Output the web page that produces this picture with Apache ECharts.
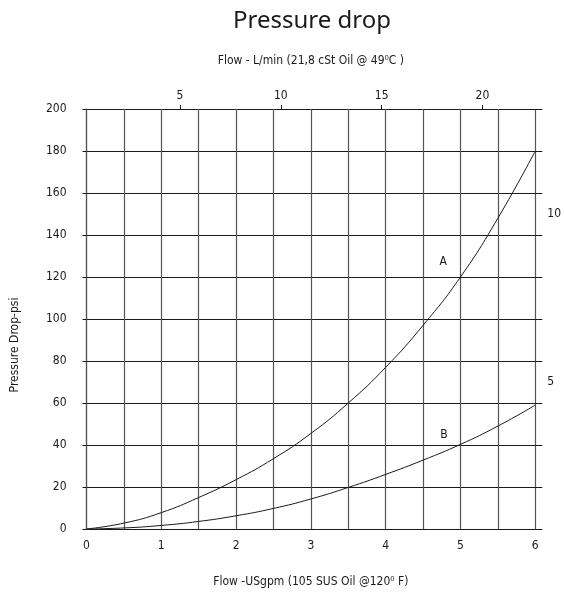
<!DOCTYPE html>
<html>
<head>
<meta charset="utf-8">
<script src="https://cdn.jsdelivr.net/npm/echarts@6/dist/echarts.min.js"></script>
<style>
  html, body { margin: 0; padding: 0; background: #fff; }
  #chart { width: 564px; height: 594px; }
</style>
</head>
<body>
<div id="chart"></div>
<script>
// flow in US gpm
const flowGpm = [0, 0.5, 1, 1.5, 2, 2.5, 3, 3.5, 4, 4.5, 5, 5.5, 6]
// pressure drop in psi
const curveA = [0, 2.8, 7.8, 15, 23.5, 33.5, 45.5, 60, 77, 97, 120, 148, 180]
const curveB = [0, 0.5, 1.7, 3.6, 6.3, 9.8, 14.3, 19.8, 26, 32.8, 40.3, 49, 59]
// top scale, L/min
const litreTicks = [5, 10, 15, 20]
// right side marks (psi value -> label)
const rightTicks = [0, 20, 40, 60, 80, 100, 120, 140, 160, 180, 200]
const rightLabelVals = [70, 150]
const rightLabelText = ['5', '10']

const font = "'DejaVu Sans Condensed', 'DejaVu Sans', sans-serif"
const ink = '#1a1a1a'

const chart = echarts.init(document.getElementById('chart'))

function pairs(ys) {
  return flowGpm.map((x, i) => [x, ys[i]])
}

function curveLabel(text, coord) {
  return {
    symbol: 'circle',
    symbolSize: 1,
    itemStyle: { color: 'rgba(0,0,0,0)' },
    label: { show: true, position: 'inside', formatter: text, fontFamily: font, fontSize: 12, color: ink },
    data: [{ coord: coord }],
  }
}

const option = {
  animation: false,
  textStyle: { fontFamily: font },
  title: {
    text: 'Pressure drop',
    left: 307,
    top: 4,
    textAlign: 'center',
    textStyle: { fontFamily: "'Noto Sans', sans-serif", fontSize: 24, fontWeight: 'normal', color: ink },
  },
  grid: { left: 86.5, right: 25.5, top: 109, bottom: 65 },
  xAxis: [
    {
      type: 'value',
      position: 'bottom',
      min: 0,
      max: 6,
      interval: 0.5,
      name: 'Flow -USgpm (105 SUS Oil @120\u2070 F)',
      nameLocation: 'middle',
      nameGap: 47,
      nameTextStyle: { fontFamily: font, fontSize: 12, color: ink },
      axisLine: { show: true, lineStyle: { color: ink, width: 1 } },
      axisTick: { show: false },
      axisLabel: {
        fontFamily: font, fontSize: 12, color: ink, margin: 11,
        formatter: v => (v % 1 === 0 ? String(v) : ''),
      },
      splitLine: { show: true, lineStyle: { color: '#555', width: 1.2 } },
    },
    {
      type: 'value',
      position: 'top',
      min: 0.36,
      max: 22.62,
      name: 'Flow - L/min (21,8 cSt Oil @ 49\u2070C )',
      nameLocation: 'middle',
      nameGap: 42,
      nameTextStyle: { fontFamily: font, fontSize: 12, color: ink },
      axisLine: { show: false, onZero: false },
      axisTick: { show: true, customValues: litreTicks, length: 4, lineStyle: { color: ink } },
      axisLabel: { customValues: litreTicks, fontFamily: font, fontSize: 12, color: ink, margin: 7 },
      splitLine: { show: false },
    },
  ],
  yAxis: [
    {
      type: 'value',
      min: 0,
      max: 200,
      interval: 20,
      name: 'Pressure Drop-psi',
      nameLocation: 'middle',
      nameGap: 66,
      nameTextStyle: { fontFamily: font, fontSize: 12, color: ink, padding: [0, 52, 0, 0] },
      axisLine: { show: true, lineStyle: { color: '#555', width: 1.2 } },
      axisTick: { show: true, length: 4, lineStyle: { color: ink } },
      axisLabel: { fontFamily: font, fontSize: 12, color: ink, margin: 20 },
      splitLine: { show: true, lineStyle: { color: ink, width: 1 } },
    },
    {
      type: 'value',
      position: 'right',
      min: 0,
      max: 200,
      axisLine: { show: false, onZero: false },
      axisTick: { show: true, customValues: rightTicks, length: 7, lineStyle: { color: ink } },
      axisLabel: {
        customValues: rightLabelVals,
        fontFamily: font, fontSize: 12, color: ink, margin: 12,
        formatter: v => rightLabelText[rightLabelVals.indexOf(v)] || '',
      },
      splitLine: { show: false },
    },
  ],
  series: [
    {
      name: 'A',
      type: 'line',
      data: pairs(curveA),
      smooth: true,
      showSymbol: false,
      lineStyle: { color: ink, width: 1 },
      markPoint: curveLabel('A', [4.77, 127]),
    },
    {
      name: 'B',
      type: 'line',
      data: pairs(curveB),
      smooth: true,
      showSymbol: false,
      lineStyle: { color: ink, width: 1 },
      markPoint: curveLabel('B', [4.78, 45]),
    },
  ],
}

chart.setOption(option)
</script>
</body>
</html>
